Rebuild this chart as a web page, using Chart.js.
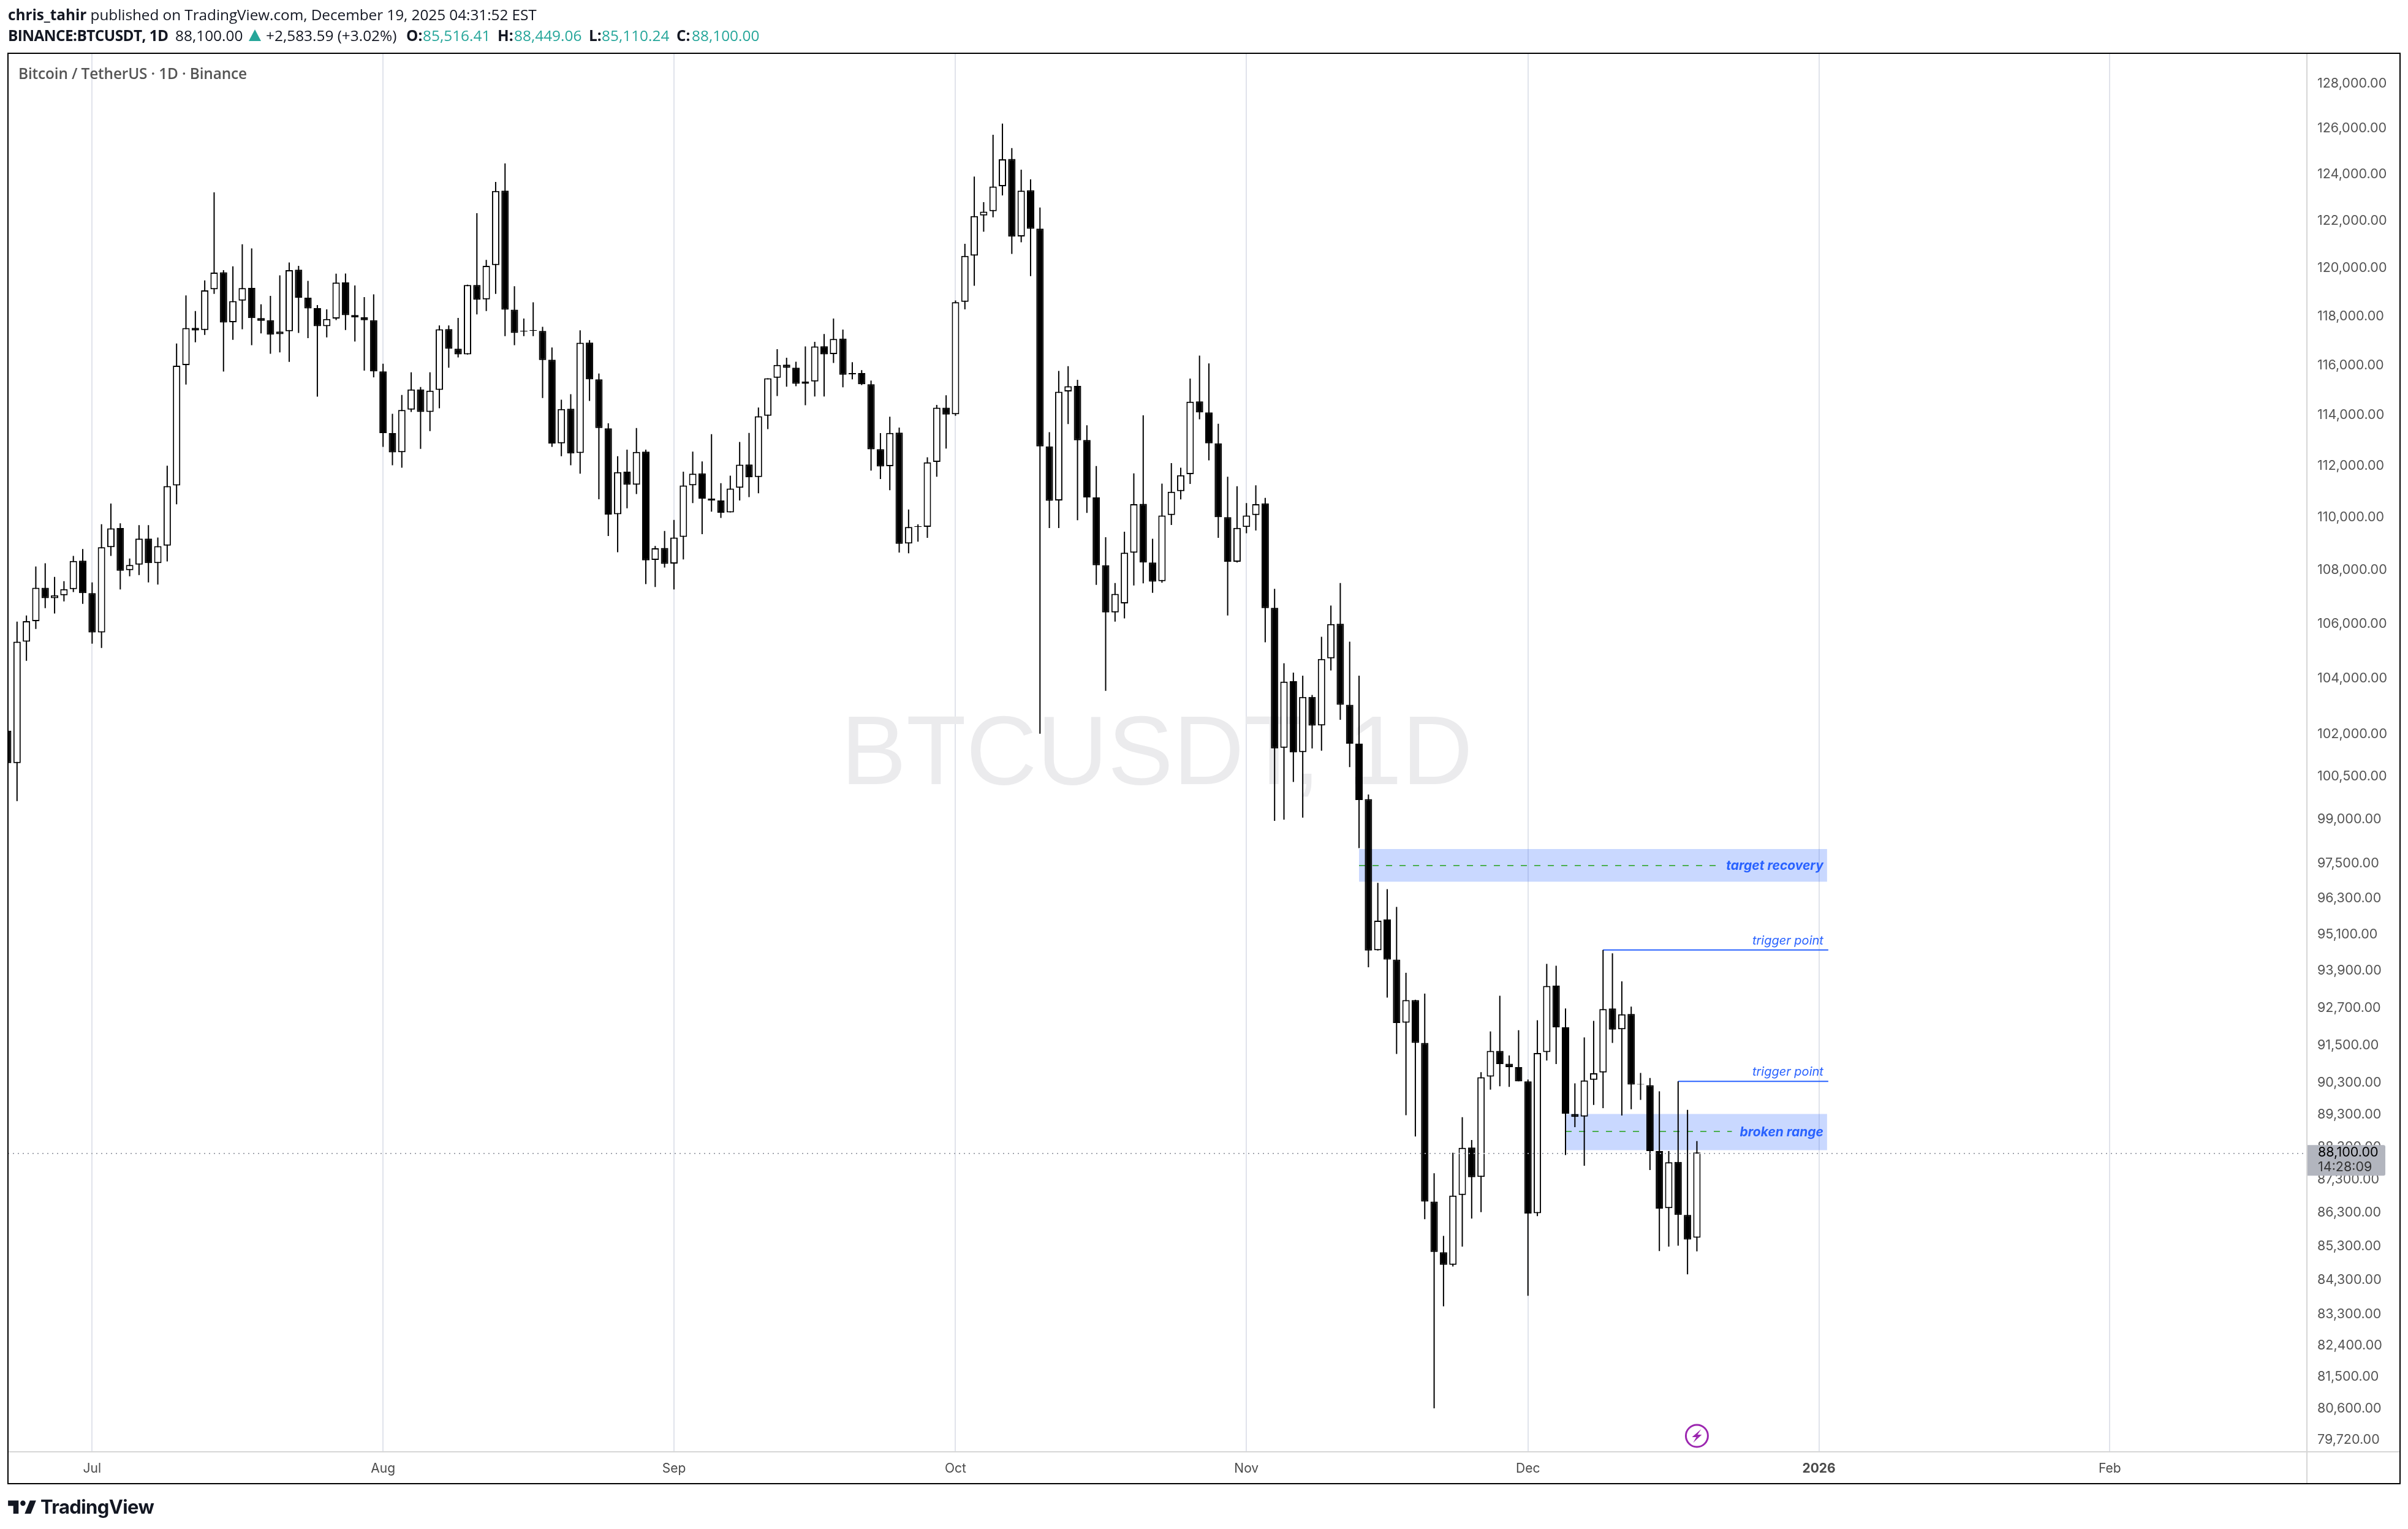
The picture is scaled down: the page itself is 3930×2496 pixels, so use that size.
<!DOCTYPE html>
<html>
<head>
<meta charset="utf-8">
<title>BTCUSDT 1D</title>
<script src="https://cdn.jsdelivr.net/npm/chart.js@4"></script>
<style>
html,body{margin:0;padding:0;background:#fff;width:3930px;height:2496px;overflow:hidden}
#c{position:absolute;left:0;top:0}
.t{position:absolute;white-space:nowrap;font-family:"Open Sans",sans-serif;color:#131722;font-size:24.4px;line-height:34px}
b{font-weight:700}
.g{color:#26a69a}
</style>
</head>
<body>
<canvas id="c" width="3930" height="2496"></canvas>
<div class="t" style="left:13px;top:7px;letter-spacing:-0.07px"><b>chris_tahir</b> published on TradingView.com, December 19, 2025 04:31:52 EST</div>
<div class="t" style="left:13px;top:41px;letter-spacing:-0.58px"><b>BINANCE:BTCUSDT, 1D</b></div>
<div class="t" style="left:286px;top:41px">88,100.00</div>
<svg style="position:absolute;left:406px;top:48px" width="20" height="19" viewBox="0 0 20 19"><path fill="#26a69a" d="M10 0L20 19H0z"/></svg>
<div class="t" style="left:434px;top:41px">+2,583.59 (+3.02%)</div>
<div class="t" style="left:663px;top:41px"><b>O:</b></div>
<div class="t g" style="left:690px;top:41px">85,516.41</div>
<div class="t" style="left:812px;top:41px"><b>H:</b></div>
<div class="t g" style="left:839px;top:41px">88,449.06</div>
<div class="t" style="left:961px;top:41px"><b>L:</b></div>
<div class="t g" style="left:982px;top:41px">85,110.24</div>
<div class="t" style="left:1104px;top:41px"><b>C:</b></div>
<div class="t g" style="left:1129px;top:41px">88,100.00</div>
<div class="t" style="left:30px;top:103px;font-weight:600;color:#555;letter-spacing:-0.15px">Bitcoin / TetherUS · 1D · Binance</div>
<svg style="position:absolute;left:10px;top:2441px" width="52" height="40" viewBox="0 0 36 28"><path fill="#131722" d="M14 6H2v6h6v9h6V6zm14 15h-7l6-15h7l-6 15zm-9-9a3 3 0 1 0 0-6 3 3 0 0 0 0 6z"/></svg>
<div class="t" style="left:66px;top:2435px;font-family:Inter,sans-serif;font-size:31px;line-height:50px;font-weight:700;letter-spacing:-0.6px">TradingView</div>
<script>
// ---- categories: one calendar day per slot, first slot 2025-06-22, last 2026-02-22
const firstDay = Date.UTC(2025, 5, 22);
const dayCount = 246;
const days = [];
for (let d = 0; d < dayCount; d++) days.push(new Date(firstDay + d * 864e5).toISOString().slice(0, 10));

const tickDates = ['2025-07-01','2025-08-01','2025-09-01','2025-10-01','2025-11-01','2025-12-01','2026-01-01','2026-02-01'];
const tickLabels = ['Jul','Aug','Sep','Oct','Nov','Dec','2026','Feb'];

const priceTicks = [128000,126000,124000,122000,120000,118000,116000,114000,112000,110000,108000,106000,104000,102000,100500,99000,97500,96300,95100,93900,92700,91500,90300,89300,88300,87300,86300,85300,84300,83300,82400,81500,80600,79720];

// ---- OHLC
const open = [102070,100920,105290,106050,107290,106900,107010,107240,108310,107090,
105630,108820,109550,107950,108160,109150,108220,108880,111190,115960,
117480,117390,119070,119780,117710,118600,119130,117880,117790,117220,
117340,119890,118720,118290,117550,117860,119360,118010,117910,117790,
115710,113240,112490,114170,114980,114080,114960,117430,116630,116400,
119250,118650,120080,123240,118230,117360,117390,117350,116180,112840,
114210,112460,116880,115390,113430,110080,111730,111220,112510,108340,
108790,108200,109210,111200,111660,110690,110610,110150,111100,112010,
111520,113930,115450,115980,115860,115300,115300,116730,116410,117040,
115640,115640,115190,112610,111940,113260,108960,109590,109600,112110,
114250,113990,118550,120480,122180,122360,123430,124610,121290,123260,
121620,112720,110610,114900,115120,112970,110730,108140,106370,106710,
108610,110480,108240,107540,110050,110970,111630,114500,114060,112840,
109970,108270,109590,110050,110500,106540,101460,103850,101310,103280,
102260,104680,105950,103000,101610,99660,94540,95560,94230,92180,
92910,91530,86600,85080,84710,86800,88250,87350,90460,91280,
90870,90760,90310,86250,91240,93380,92030,89290,89210,90360,
90590,92640,91970,92460,90210,90190,88140,86400,87810,86200,
85516.41];
const high = [102240,106030,106260,108090,108210,107700,107540,108490,108750,107490,
109700,110490,109730,108390,109660,109660,109190,111960,116840,118820,
118170,119440,123170,119870,120030,120960,120780,118450,118800,119650,
120190,120050,119420,118420,118240,119720,119730,119230,118750,118860,
116020,114010,114760,115670,115080,115670,117580,117580,117890,119260,
122280,120300,123620,124420,119200,117860,118530,117520,116680,114570,
114790,117380,116980,115620,113630,112330,112590,113440,112590,108870,
109440,109860,111730,112510,112130,113200,111280,111570,112890,113250,
114260,115430,116610,116260,116100,116720,116910,117230,117860,117410,
116080,115760,115340,113240,113890,113460,110260,109690,112290,114360,
114750,118610,120980,123850,122750,125670,126160,125090,124150,123730,
122520,113280,115730,115920,115370,113550,111950,109200,107470,109410,
111660,113950,109140,111260,112060,111880,115420,116350,116030,113610,
111530,111160,110510,111200,110710,107250,104500,104160,104050,103350,
105470,106630,107470,105290,104050,99820,96790,96580,95980,93800,
92920,93120,87460,85570,88090,89190,88480,90600,91900,93050,
91130,91940,90370,92260,94090,94030,92640,90250,91710,92240,
94550,94440,93520,92700,90580,90420,90000,88140,90310,89420,
88449.06];
const low = [100830,99590,104590,105760,106530,106330,106780,107130,106690,105220,
105060,108490,107230,107720,107770,107490,107410,108280,110460,115180,
116890,117190,118880,115700,116990,117420,116770,117250,116420,116480,
116090,117270,117060,114690,117090,117800,117390,116920,115740,115470,
112700,111980,111880,114080,112620,113320,114230,115860,116270,116390,
118030,118170,118880,117140,116770,117140,117140,114640,112700,112330,
111980,111650,114520,110660,109250,108630,110310,110860,107430,107320,
108050,107230,108360,110510,109320,110180,109940,110150,110610,110740,
110890,113400,114720,115090,115110,114350,114700,114700,116050,115070,
115390,115160,111770,111440,111010,108620,108590,109030,109180,111530,
112630,113930,118240,119220,121490,122100,123040,120550,121040,119620,
101960,109550,109550,113600,109850,110130,107400,103500,106030,106150,
107380,107460,107100,107480,109670,110650,111250,113790,112170,109180,
106260,108240,109350,109460,105270,98910,98950,100260,99020,101440,
101360,104240,102460,100780,97970,93980,94530,92990,91180,89250,
88590,86070,80570,83490,84660,85250,86090,86280,90050,90160,
90140,90310,83800,86160,90970,90860,88020,88880,87690,89570,
89470,91530,89240,89440,89730,87560,85120,85250,85280,84430,
85110.24];
const close = [100920,105290,106050,107290,106900,107010,107240,108300,107090,105630,
108820,109540,107930,108150,109150,108220,108860,111170,115940,117470,
117370,119030,119770,117700,118580,119120,117880,117770,117200,117330,
119870,118720,118280,117550,117840,119350,118000,117910,117790,115710,
113240,112480,114160,114980,114080,114930,117420,116630,116400,119250,
118640,120050,123230,118230,117270,117330,117360,116170,112830,114200,
112440,116870,115390,113440,110070,111710,111220,112500,108320,108780,
108190,109190,111190,111650,110680,110610,110140,111070,112000,111510,
113910,115430,115970,115850,115210,115210,116720,116400,117030,115570,
115590,115190,112600,111930,113250,108950,109590,109620,112090,114250,
113980,118540,120470,122150,122340,123420,124600,121280,123240,121610,
112720,110600,114890,115110,112960,110730,108140,106370,107060,108610,
110470,108240,107520,110030,110950,111590,114490,114060,112840,109970,
108270,109560,110030,110470,106530,101440,103830,101300,103280,102250,
104660,105940,103000,101610,99630,94530,95520,94230,92170,92910,
91530,86600,85090,84710,86780,88240,87340,90440,91280,90860,
90760,90310,86240,91210,93370,92030,89300,89200,90340,90570,
92620,91960,92450,90210,90230,88140,86390,87800,86200,85460,
88100];

// ---- drawings on the chart
const zoneFrom = ['2025-11-13','2025-12-05'];
const zoneTo = ['2026-01-02','2026-01-02'];
const zoneHigh = [97940,89290];
const zoneLow = [96830,88170];
const zoneMid = [97380,88740];
const zoneLabel = ['target recovery','broken range'];
const triggerFrom = ['2025-12-09','2025-12-17'];
const triggerTo = ['2026-01-02','2026-01-02'];
const triggerPrice = [94550,90310];
const triggerLabel = ['trigger point','trigger point'];
const lastDay = '2025-12-19';
const lastPrice = 88100;
const lastPriceText = '88,100.00';
const countdownText = '14:28:09';
const watermark = 'BTCUSDT, 1D';

const BLUE = '#2962ff';
const frame = {l:13, t:87, r:3917, b:2422, sepX:3765, sepY:2370};

const drawings = {
  id:'drawings',
  beforeDatasetsDraw(chart){
    const g = chart.ctx, x = chart.scales.x, y = chart.scales.y;
    g.save();
    g.font = '160px "Liberation Sans"';
    g.fillStyle = '#ebebed';
    g.textAlign = 'center'; g.textBaseline = 'middle';
    g.fillText(watermark, 1888, 1236);
    zoneFrom.forEach((from,i)=>{
      const x0 = x.getPixelForValue(days.indexOf(from)), x1 = x.getPixelForValue(days.indexOf(zoneTo[i]))-2;
      const yt = y.getPixelForValue(zoneHigh[i]), yb = y.getPixelForValue(zoneLow[i]), ym = y.getPixelForValue(zoneMid[i]);
      g.fillStyle = 'rgba(41,98,255,0.25)';
      g.fillRect(x0, yt, x1-x0, yb-yt);
      g.font = 'italic 700 21px Inter';
      g.textAlign = 'right';
      const tw = g.measureText(zoneLabel[i]).width;
      g.strokeStyle = '#4caf50'; g.lineWidth = 2; g.setLineDash([10,12]);
      g.beginPath(); g.moveTo(x0, Math.round(ym)); g.lineTo(x1-6-tw-13, Math.round(ym)); g.stroke();
      g.setLineDash([]);
      g.fillStyle = BLUE;
      g.fillText(zoneLabel[i], x1-6, ym+1);
    });
    triggerFrom.forEach((from,i)=>{
      const x0 = x.getPixelForValue(days.indexOf(from)), x1 = x.getPixelForValue(days.indexOf(triggerTo[i]));
      const yy = y.getPixelForValue(triggerPrice[i]);
      g.strokeStyle = BLUE; g.lineWidth = 2;
      g.beginPath(); g.moveTo(x0, yy); g.lineTo(x1, yy); g.stroke();
      g.font = 'italic 400 20px Inter';
      g.textAlign = 'right'; g.textBaseline = 'middle';
      g.fillStyle = BLUE;
      g.fillText(triggerLabel[i], x1-8, yy-15);
    });
    g.restore();
  },
  afterDatasetsDraw(chart){
    const g = chart.ctx, y = chart.scales.y, x = chart.scales.x;
    g.save();
    const yy = Math.round(y.getPixelForValue(lastPrice))+2;
    g.strokeStyle = '#a3a6af'; g.lineWidth = 2; g.setLineDash([2,6]);
    g.beginPath(); g.moveTo(frame.l, yy); g.lineTo(frame.sepX, yy); g.stroke();
    g.setLineDash([]);
    // lightning marker under the last candle
    const cx = x.getPixelForValue(days.indexOf(lastDay)), cy = 2344;
    g.strokeStyle = '#9c27b0'; g.lineWidth = 3;
    g.beginPath(); g.arc(cx, cy, 18, 0, Math.PI*2); g.stroke();
    g.fillStyle = '#9c27b0';
    g.beginPath();
    g.moveTo(cx+7,cy-11); g.lineTo(cx-8,cy+2); g.lineTo(cx-1,cy+2); g.lineTo(cx-6,cy+11);
    g.lineTo(cx+8,cy-2); g.lineTo(cx+1,cy-2); g.closePath(); g.fill();
    g.restore();
  },
  afterDraw(chart){
    const g = chart.ctx, y = chart.scales.y;
    g.save();
    g.strokeStyle = '#d6d6d6'; g.lineWidth = 2;
    g.beginPath();
    g.moveTo(frame.sepX, frame.t); g.lineTo(frame.sepX, frame.b);
    g.moveTo(frame.l, frame.sepY); g.lineTo(frame.r, frame.sepY);
    g.stroke();
    g.strokeStyle = '#000'; g.lineWidth = 2;
    g.strokeRect(frame.l, frame.t, frame.r-frame.l, frame.b-frame.t);
    const yy = y.getPixelForValue(lastPrice);
    g.fillStyle = '#b2b5be';
    g.beginPath(); g.roundRect(frame.sepX+1, yy-12, 127, 50, [0,3,3,0]); g.fill();
    g.textAlign = 'left'; g.textBaseline = 'middle';
    g.font = '21.5px Inter';
    g.fillStyle = '#000';
    g.fillText(lastPriceText, 3783, yy);
    g.fillStyle = '#333';
    g.fillText(countdownText, 3783, yy+24);
    g.restore();
  }
};

new Chart(document.getElementById('c'), {
  type:'bar',
  data:{
    labels:days,
    datasets:[
      {
        label:'wick', order:2, grouped:false,
        data:low.map((l,i)=>[l,high[i]]),
        backgroundColor:'#000', borderWidth:0, barThickness:2, inflateAmount:0
      },
      {
        label:'body', order:1, grouped:false,
        data:open.map((o,i)=>[Math.min(o,close[i]),Math.max(o,close[i])]),
        backgroundColor:open.map((o,i)=>{
          const up = close[i] >= o;
          return up && Math.abs(close[i]-o) > 60 ? '#fff' : '#000';
        }),
        borderColor:'#000', borderWidth:2, borderSkipped:false, barThickness:12, inflateAmount:0
      }
    ]
  },
  plugins:[drawings],
  options:{
    responsive:false, animation:false, devicePixelRatio:1,
    layout:{padding:{left:12.5, top:frame.t+1, right:3930-frame.r, bottom:2496-frame.b}},
    plugins:{legend:{display:false}, tooltip:{enabled:false}},
    scales:{
      x:{
        type:'category', offset:false,
        grid:{color:'#e0e3eb', lineWidth:2, drawTicks:false, offset:false},
        border:{display:false},
        afterBuildTicks(s){ s.ticks = tickDates.map(d=>({value:days.indexOf(d)})); },
        afterFit(s){ s.height = frame.b-frame.sepY; },
        ticks:{
          autoSkip:false, maxRotation:0, minRotation:0, padding:15, color:'#4a4a4a',
          font:(c)=>({family:'Inter', size:21, weight: c.tick && days[c.tick.value]==='2026-01-01' ? '700':'400'}),
          callback(v){ return tickLabels[tickDates.indexOf(days[v])]; }
        }
      },
      y:{
        type:'logarithmic', position:'right',
        min:79358, max:129267,
        grid:{display:false, drawTicks:false},
        border:{display:false},
        afterBuildTicks(s){ s.ticks = priceTicks.map(v=>({value:v})); },
        afterFit(s){ s.width = frame.r-frame.sepX; },
        ticks:{
          autoSkip:false, padding:17, color:'#555', labelOffset:2,
          font:{family:'Inter', size:21.5},
          callback(v){ return v.toLocaleString('en-US',{minimumFractionDigits:2,maximumFractionDigits:2}); }
        }
      }
    }
  }
});
</script>
</body>
</html>
